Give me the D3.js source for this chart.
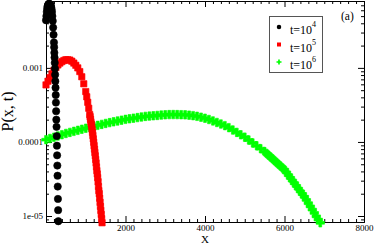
<!DOCTYPE html>
<html>
<head>
<meta charset="utf-8">
<script src="https://cdn.jsdelivr.net/npm/d3@7"></script>
<style>
  body { margin: 0; background: #fff; }
  svg { display: block; font-family: "Liberation Serif", "DejaVu Serif", serif; }
  .axis path, .axis line { stroke: #000; stroke-width: 1; }
  .axis text { font-family: "Liberation Serif", serif; font-size: 9px; fill: #000; }
</style>
</head>
<body>
<div id="chart"></div>
<script>
// t = 10^4 (circles)
const t4X = [0, 10, 20, 30, 40, 50, 60, 70, 80, 90, 100, 110, 120, 130, 140, 150, 160, 170, 180, 190, 200,
  205, 210, 215, 220, 225, 230, 235, 240, 245, 250, 255, 260, 265, 270, 275, 280, 285, 290, 295, 300, 305, 310];
const t4P = [4.4e-3, 5.0e-3, 5.7e-3, 6.3e-3, 6.8e-3, 7.0e-3, 7.2e-3, 7.3e-3, 7.3e-3, 7.3e-3, 7.2e-3,
  7.1e-3, 6.9e-3, 6.6e-3, 6.2e-3, 5.7e-3, 5.0e-3, 4.3e-3, 3.5e-3, 2.8e-3, 2.2e-3,
  1.9e-3, 1.6e-3, 1.38e-3, 1.17e-3, 9.8e-4, 8.1e-4, 6.6e-4, 5.4e-4, 4.3e-4, 3.4e-4, 2.6e-4,
  2.0e-4, 1.6e-4, 1.2e-4, 8.9e-5, 6.6e-5, 4.8e-5, 3.5e-5, 2.5e-5, 1.7e-5, 1.2e-5, 8.5e-6];

// t = 10^5 (squares)
const t5X = [0, 50, 100, 150, 200, 250, 300, 350, 400, 450, 500, 550, 600, 650, 700, 750, 800, 850, 900, 950, 1000,
  1025, 1050, 1075,
  1100, 1110, 1120, 1130, 1140, 1150, 1160, 1170, 1180, 1190, 1200, 1210, 1220, 1230, 1240, 1250,
  1260, 1270, 1280, 1290, 1300, 1310, 1320, 1330, 1340, 1350, 1360, 1370, 1380, 1390, 1400, 1410];
const t5P = [5.89e-4, 6.61e-4, 7.41e-4, 8.32e-4, 9.23e-4, 1.012e-3, 1.096e-3, 1.161e-3, 1.216e-3, 1.259e-3,
  1.288e-3, 1.288e-3, 1.274e-3, 1.230e-3, 1.161e-3, 1.084e-3, 1.0e-3, 8.91e-4, 7.59e-4, 6.10e-4, 4.79e-4,
  4.07e-4, 3.43e-4, 2.85e-4,
  2.34e-4, 2.19e-4, 2.02e-4, 1.86e-4, 1.74e-4, 1.62e-4, 1.48e-4, 1.35e-4, 1.22e-4, 1.10e-4,
  9.9e-5, 8.9e-5, 8.0e-5, 7.2e-5, 6.5e-5, 5.8e-5, 5.2e-5, 4.6e-5, 4.1e-5, 3.7e-5,
  3.3e-5, 2.9e-5, 2.5e-5, 2.2e-5, 2.0e-5, 1.74e-5, 1.53e-5, 1.35e-5, 1.19e-5, 1.05e-5, 9.2e-6, 8.1e-6];

// t = 10^6 (crosses)
const t6X = [0, 100, 200, 300, 400, 500, 600, 700, 800, 900, 1000, 1100, 1200, 1300, 1400, 1500, 1600, 1700,
  1800, 1900, 2000, 2100, 2200, 2300, 2400, 2500, 2600, 2700, 2800, 2900, 3000, 3100, 3200, 3300, 3400,
  3500, 3600, 3700, 3800, 3900, 4000, 4100, 4200, 4300, 4400, 4500, 4600, 4700, 4800, 4900, 5000, 5100,
  5200, 5300, 5400, 5500, 5550, 5600, 5650, 5700, 5750, 5800, 5850, 5900, 5950, 6000, 6050, 6100, 6150,
  6200, 6250, 6300, 6350, 6400, 6450, 6500, 6550, 6600, 6650, 6700, 6750, 6800, 6850, 6900];
const t6P = [1.072e-4, 1.114e-4, 1.159e-4, 1.205e-4, 1.253e-4, 1.303e-4, 1.346e-4, 1.390e-4, 1.435e-4, 1.483e-4,
  1.531e-4, 1.578e-4, 1.626e-4, 1.675e-4, 1.726e-4, 1.778e-4, 1.824e-4, 1.871e-4, 1.919e-4, 1.968e-4,
  2.018e-4, 2.056e-4, 2.094e-4, 2.133e-4, 2.173e-4, 2.213e-4, 2.234e-4, 2.259e-4, 2.280e-4, 2.307e-4,
  2.328e-4, 2.339e-4, 2.344e-4, 2.339e-4, 2.333e-4, 2.323e-4, 2.301e-4, 2.265e-4, 2.218e-4, 2.158e-4,
  2.089e-4, 2.009e-4, 1.923e-4, 1.832e-4, 1.746e-4, 1.660e-4, 1.560e-4, 1.449e-4, 1.346e-4, 1.250e-4,
  1.161e-4, 1.062e-4, 9.70e-5, 8.87e-5, 8.11e-5, 7.41e-5, 7.00e-5, 6.62e-5, 6.26e-5, 5.92e-5, 5.59e-5,
  5.28e-5, 4.99e-5, 4.72e-5, 4.46e-5, 4.22e-5, 3.88e-5, 3.56e-5, 3.27e-5, 3.01e-5, 2.77e-5, 2.55e-5,
  2.34e-5, 2.15e-5, 1.98e-5, 1.82e-5, 1.65e-5, 1.49e-5, 1.35e-5, 1.22e-5, 1.10e-5, 9.9e-6, 8.95e-6, 8.1e-6];

const seriesExp = ['4', '5', '6'];
const seriesColors = ['#000000', '#ff0000', '#00ff00'];

const xMajor = [0, 2000, 4000, 6000, 8000];
const yMajor = [1e-5, 1e-4, 1e-3];
const yLabels = ['1e-05', '0.0001', '0.001'];

const width = 374;
const height = 245;
const plot = { left: 46, right: 364, top: 1, bottom: 222 };

const x = d3.scaleLinear().domain([0, 8000]).range([plot.left, plot.right]);
const y = d3.scaleLog().domain([8.3e-6, 8e-3]).range([plot.bottom, plot.top]);

const xMinor = d3.range(200, 8000, 200).filter(v => v % 2000 !== 0);
const yMinor = [];
[1e-6, 1e-5, 1e-4, 1e-3].forEach((dec) => {
  d3.range(2, 10).forEach((k) => {
    const v = k * dec;
    if (v > y.domain()[0] && v < y.domain()[1]) yMinor.push(v);
  });
});

const svg = d3.select('#chart').append('svg')
  .attr('width', width)
  .attr('height', height);

svg.append('rect')
  .attr('width', width)
  .attr('height', height)
  .attr('fill', '#fff');

const addAxis = (axis, tx, ty) => svg.append('g')
  .attr('class', 'axis')
  .attr('transform', `translate(${tx},${ty})`)
  .call(axis);

// bottom / top
addAxis(d3.axisBottom(x).tickValues(xMinor).tickSize(-3).tickSizeOuter(0).tickFormat(''), 0, plot.bottom);
addAxis(d3.axisBottom(x).tickValues(xMajor).tickSize(-6).tickSizeOuter(0).tickPadding(2.5)
  .tickFormat(d => (d === 0 ? '' : d)), 0, plot.bottom);
addAxis(d3.axisTop(x).tickValues(xMinor).tickSize(-3).tickSizeOuter(0).tickFormat(''), 0, plot.top);
addAxis(d3.axisTop(x).tickValues(xMajor).tickSize(-6).tickSizeOuter(0).tickFormat(''), 0, plot.top);

// left / right
addAxis(d3.axisLeft(y).tickValues(yMinor).tickSize(-3).tickSizeOuter(0).tickFormat(''), plot.left, 0);
addAxis(d3.axisLeft(y).tickValues(yMajor).tickSize(-6).tickSizeOuter(0).tickPadding(3)
  .tickFormat((d, i) => yLabels[i]), plot.left, 0);
addAxis(d3.axisRight(y).tickValues(yMinor).tickSize(-3).tickSizeOuter(0).tickFormat(''), plot.right, 0);
addAxis(d3.axisRight(y).tickValues(yMajor).tickSize(-6).tickSizeOuter(0).tickFormat(''), plot.right, 0);

const series = [
  { xs: t4X, ps: t4P, symbol: d3.symbol().type(d3.symbolCircle).size(42) },
  { xs: t5X, ps: t5P, symbol: d3.symbol().type(d3.symbolSquare).size(40) },
  { xs: t6X, ps: t6P, symbol: d3.symbol().type(d3.symbolCross).size(40) },
];

// green first, black on top
[2, 1, 0].forEach((si) => {
  const s = series[si];
  svg.append('g')
    .selectAll('path')
    .data(s.xs.map((v, i) => [v, s.ps[i]]))
    .enter()
      .append('path')
      .attr('d', s.symbol)
      .attr('transform', d => `translate(${x(d[0])},${y(d[1])})`)
      .attr('fill', seriesColors[si])
      .attr('stroke', seriesColors[si])
      .attr('stroke-width', 0.6);
});

// legend
const legend = svg.append('g');
legend.append('rect')
  .attr('x', 269.5)
  .attr('y', 16.5)
  .attr('width', 53)
  .attr('height', 56)
  .attr('fill', '#fff')
  .attr('stroke', '#555')
  .attr('stroke-width', 1);

const legendSym = [
  d3.symbol().type(d3.symbolCircle).size(16),
  d3.symbol().type(d3.symbolSquare).size(16),
  d3.symbol().type(d3.symbolCross).size(14),
];

seriesExp.forEach((e, i) => {
  const rowY = 34 + i * 17.5;
  legend.append('path')
    .attr('d', legendSym[i])
    .attr('transform', `translate(279,${rowY - 7})`)
    .attr('fill', seriesColors[i]);
  const txt = legend.append('text')
    .attr('x', 290)
    .attr('y', rowY)
    .attr('font-size', 12)
    .text('t=10');
  txt.append('tspan')
    .attr('dy', -7)
    .attr('font-size', 8)
    .text(e);
});

svg.append('text')
  .attr('x', 341)
  .attr('y', 20)
  .attr('font-size', 11.5)
  .text('(a)');

svg.append('text')
  .attr('x', (plot.left + plot.right) / 2)
  .attr('y', 242.5)
  .attr('text-anchor', 'middle')
  .attr('font-size', 11)
  .text('X');

svg.append('text')
  .attr('transform', `translate(12.5,${(plot.top + plot.bottom) / 2}) rotate(-90)`)
  .attr('text-anchor', 'middle')
  .attr('font-size', 16)
  .text('P(x, t)');
</script>
</body>
</html>
